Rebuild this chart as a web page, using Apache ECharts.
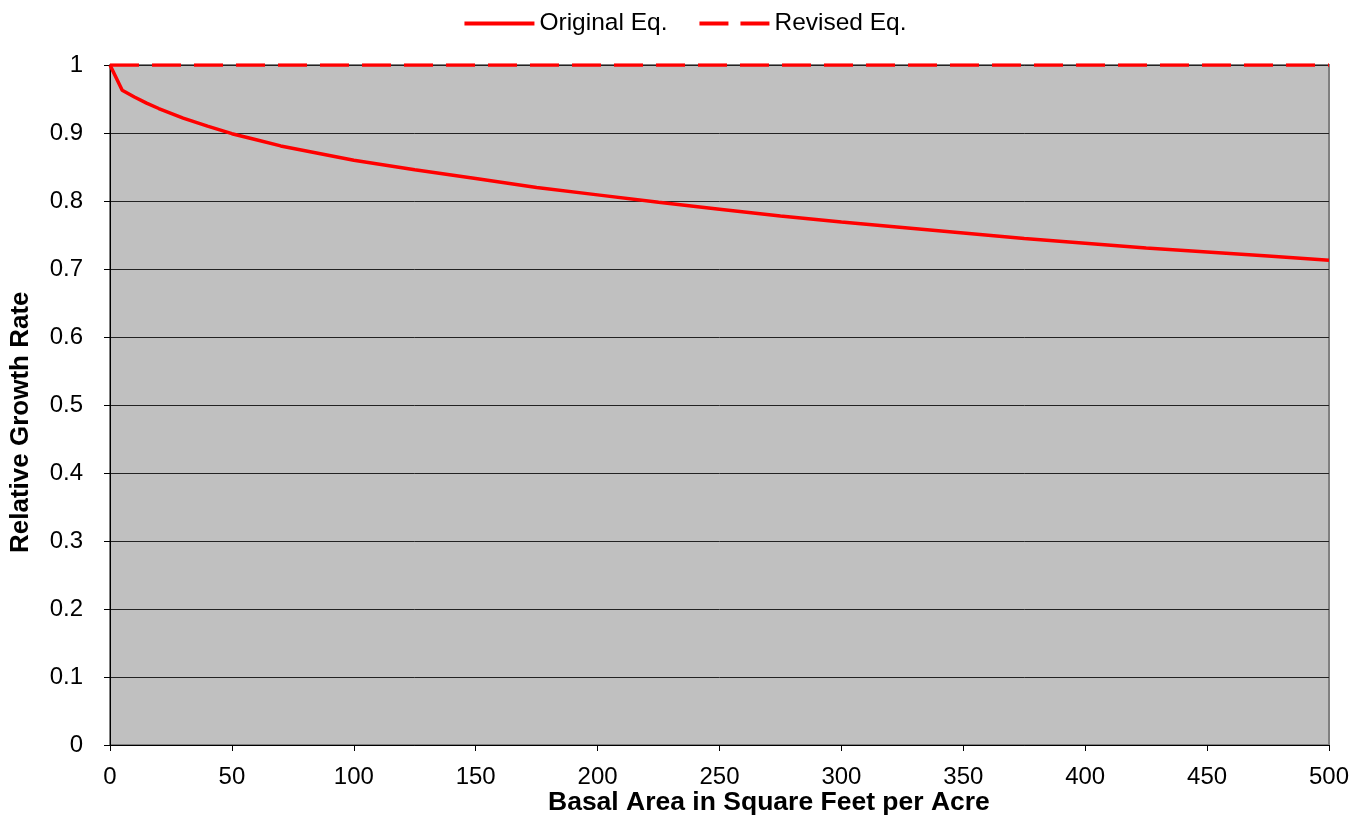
<!DOCTYPE html>
<html>
<head>
<meta charset="utf-8">
<script src="https://cdn.jsdelivr.net/npm/echarts@6/dist/echarts.min.js"></script>
<style>
html,body{margin:0;padding:0;background:#fff;}
#chart{width:1371px;height:818px;}
</style>
</head>
<body>
<div id="chart"></div>
<script>
const basalArea = [0, 5, 10, 15, 20, 25, 30, 40, 50, 60, 70, 80, 90, 100, 125, 150, 175, 200, 225, 250, 275, 300, 325, 350, 375, 400, 425, 450, 475, 500];
const originalEq = [1.0, 0.963, 0.953, 0.944, 0.936, 0.929, 0.922, 0.910, 0.899, 0.890, 0.881, 0.874, 0.867, 0.860, 0.846, 0.833, 0.820, 0.809, 0.798, 0.788, 0.778, 0.769, 0.761, 0.753, 0.745, 0.738, 0.731, 0.725, 0.719, 0.713];
const revisedX = [0, 500];
const revisedEq = [1, 1];
const seriesNames = ['Original Eq.', 'Revised Eq.'];
const xTitle = 'Basal Area in Square Feet per Acre';
const yTitle = 'Relative Growth Rate';

const chart = echarts.init(document.getElementById('chart'));
const font = '"Liberation Sans", Arial, sans-serif';
chart.setOption({
  animation: false,
  textStyle: { fontFamily: font },
  legend: {
    top: 6,
    left: 'center',
    itemWidth: 70,
    itemHeight: 4,
    itemGap: 32,
    textStyle: { fontSize: 24.5, color: '#000', fontFamily: font },
    data: [
      { name: seriesNames[0], icon: 'path://M0,0 L70,0 L70,4 L0,4 Z' },
      { name: seriesNames[1], icon: 'path://M0,0 L29,0 L29,4 L0,4 Z M41,0 L70,0 L70,4 L41,4 Z' }
    ]
  },
  grid: { left: 110, right: 42, top: 65, bottom: 73, show: true, backgroundColor: '#C0C0C0', borderColor: '#808080', borderWidth: 2 },
  xAxis: {
    type: 'value', min: 0, max: 500, interval: 50,
    axisLine: { show: true, lineStyle: { color: '#000', width: 1 } },
    axisTick: { show: true, length: 6, lineStyle: { color: '#000' } },
    axisLabel: { fontSize: 24, color: '#000', margin: 20, fontFamily: font },
    splitLine: { show: false }
  },
  yAxis: {
    type: 'value', min: 0, max: 1, interval: 0.1,
    axisLine: { show: true, onZero: false, lineStyle: { color: '#000', width: 1 } },
    axisTick: { show: true, length: 6, lineStyle: { color: '#000' } },
    axisLabel: { fontSize: 24, color: '#000', margin: 27, fontFamily: font },
    splitLine: { show: true, lineStyle: { color: '#222', width: 1 } }
  },
  graphic: [
    { type: 'text', left: 548, top: 789, style: { text: xTitle, fontSize: 26.5, fontWeight: 'bold', fill: '#000', fontFamily: font } },
    { type: 'text', x: 8, y: 553, rotation: Math.PI / 2, style: { text: yTitle, fontSize: 26, fontWeight: 'bold', fill: '#000', fontFamily: font, textAlign: 'left', textVerticalAlign: 'top' } }
  ],
  series: [
    {
      name: seriesNames[0], type: 'line', symbol: 'none', smooth: false,
      data: basalArea.map((x, i) => [x, originalEq[i]]),
      lineStyle: { color: '#FF0000', width: 3.5 }, itemStyle: { color: '#FF0000' }, z: 3
    },
    {
      name: seriesNames[1], type: 'line', symbol: 'none',
      data: revisedX.map((x, i) => [x, revisedEq[i]]),
      lineStyle: { color: '#FF0000', width: 3.5, type: [29, 13] }, itemStyle: { color: '#FF0000' }, z: 4
    }
  ]
});
</script>
</body>
</html>
